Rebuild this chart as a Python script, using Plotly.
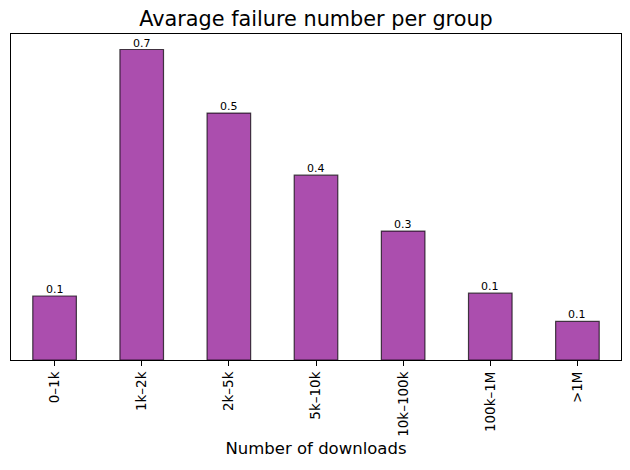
import plotly.graph_objects as go

# Average failures for each download bucket
groups = ['0–1k', '1k–2k', '2k–5k', '5k–10k', '10k–100k', '100k–1M', '>1M']
avg_failures = [0.136, 0.66, 0.525, 0.393, 0.274, 0.142, 0.082]

fig = go.Figure(go.Bar(
    x=groups,
    y=avg_failures,
    width=0.5,
    marker=dict(color='rgb(171,78,174)', line=dict(color='rgba(0,0,0,0.7)', width=1.2)),
))

# value labels sitting right on top of the bars
for g, v in zip(groups, avg_failures):
    fig.add_annotation(x=g, y=v, text=f'{v:.1f}', showarrow=False,
                       yanchor='bottom', yshift=-2, font=dict(size=11, color='black'))

# the page sits 8px in from the corner, so margins are shifted to compensate
fig.update_layout(
    width=630, height=470,
    margin=dict(l=3, r=17, t=26, b=118),
    paper_bgcolor='white', plot_bgcolor='white',
    font=dict(family='DejaVu Sans', color='black'),
    title=dict(text='Avarage failure number per group', x=0.5, xref='paper',
               y=1 - 11 / 470, yref='container', yanchor='middle',
               font=dict(size=20.8)),
    showlegend=False,
)
fig.update_xaxes(
    range=[-0.5, len(groups) - 0.5],
    tickangle=-90, tickfont=dict(size=13.5),
    ticks='outside', ticklen=5, tickcolor='black',
    showline=True, linecolor='black', linewidth=1.2, mirror=True,
    title=dict(text='Number of downloads', font=dict(size=16.5), standoff=6),
)
fig.update_yaxes(
    range=[0, max(avg_failures) * 1.05],
    showticklabels=False, showgrid=False, zeroline=False,
    showline=True, linecolor='black', linewidth=1.2, mirror=True,
)

fig.write_html("out.html")
